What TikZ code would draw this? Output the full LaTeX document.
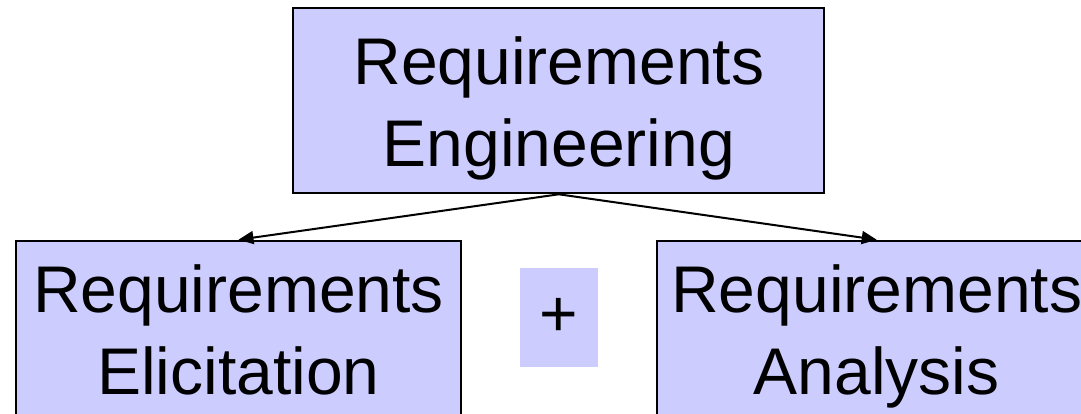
\documentclass[tikz,border=0pt]{standalone}
\usepackage{fontspec}
\setmainfont{Liberation Sans}
\usetikzlibrary{arrows.meta}
\definecolor{boxfill}{HTML}{CCCCFF}
\newcommand{\twolines}[2]{\begin{tabular}[t]{@{}c@{}}#1\\#2\end{tabular}}
\begin{document}
\begin{tikzpicture}[x=1pt,y=-1pt,
  box/.style={draw=black, line width=2pt, fill=boxfill, inner sep=0pt,
    minimum height=185pt, text height=50pt,
    font=\fontsize{66}{82}\selectfont},
  plusbox/.style={fill=boxfill, inner sep=0pt, minimum width=77.7pt,
    minimum height=99pt, font=\fontsize{66}{82}\selectfont},
  conn/.style={draw=black, line width=2pt, -{Triangle[length=15pt,width=13pt]}}]
\clip (0,0) rectangle (1081,414);
% top-level activity
\node[box, minimum width=531pt, text depth=81.6pt] (eng) at (558.8,100.8)
  {\twolines{Requirements}{Engineering}};
% sub-activities
\node[box, minimum width=445pt, text depth=91pt] (elic) at (238.5,333.2)
  {\twolines{Requirements}{Elicitation}};
\node[box, minimum width=440pt, text depth=91pt] (anal) at (876.7,333.2)
  {\twolines{Requirements}{Analysis}};
\node[plusbox] (plus) at (558.9,317.8) {+};
% decomposition arrows
\draw[conn] (eng.south) -- (elic.north);
\draw[conn] (eng.south) -- (anal.north);
\end{tikzpicture}
\end{document}
